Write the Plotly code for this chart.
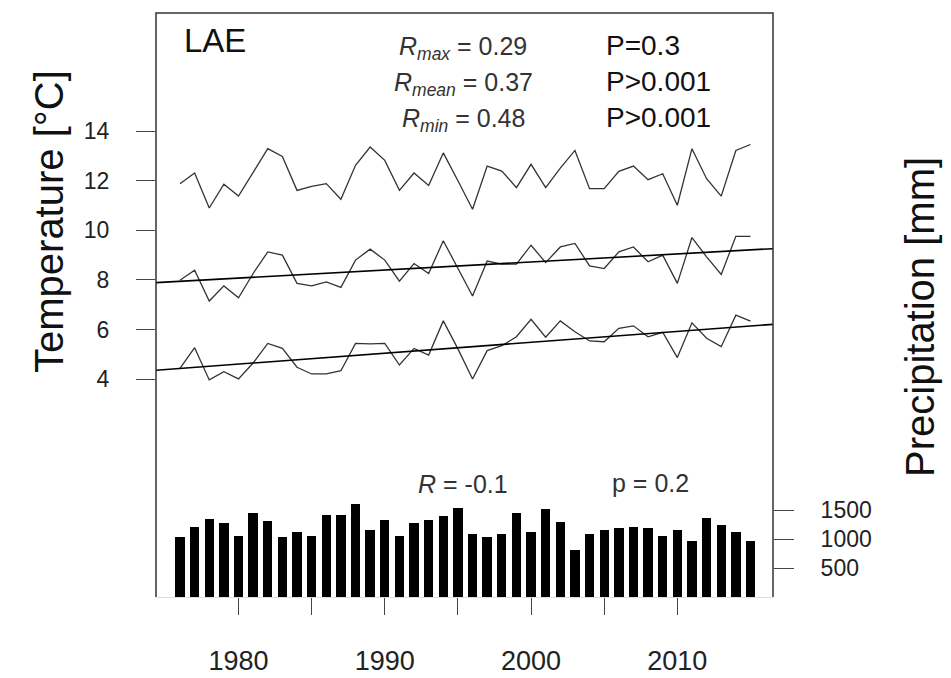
import plotly.graph_objects as go

# ---------------- data ----------------
years = list(range(1976, 2016))

t_max = [11.88, 12.31, 10.90, 11.86, 11.38, 12.34, 13.29, 12.98, 11.61, 11.77,
         11.88, 11.25, 12.62, 13.36, 12.82, 11.61, 12.31, 11.81, 13.12, 12.00,
         10.85, 12.59, 12.39, 11.72, 12.66, 11.72, 12.51, 13.22, 11.68, 11.68,
         12.38, 12.59, 12.04, 12.28, 11.01, 13.29, 12.08, 11.38, 13.22, 13.46]

t_mean = [7.99, 8.39, 7.15, 7.76, 7.28, 8.26, 9.13, 9.00, 7.86, 7.76,
          7.92, 7.70, 8.80, 9.24, 8.80, 7.95, 8.66, 8.26, 9.58, 8.49,
          7.35, 8.76, 8.64, 8.64, 9.40, 8.70, 9.33, 9.47, 8.57, 8.46,
          9.13, 9.33, 8.73, 9.00, 7.86, 9.71, 8.93, 8.22, 9.76, 9.76]

t_min = [4.44, 5.27, 3.97, 4.30, 4.01, 4.65, 5.44, 5.24, 4.48, 4.21,
         4.21, 4.34, 5.44, 5.42, 5.44, 4.57, 5.24, 4.97, 6.35, 5.22,
         4.01, 5.15, 5.35, 5.71, 6.41, 5.69, 6.35, 5.91, 5.54, 5.51,
         6.05, 6.15, 5.71, 5.89, 4.87, 6.27, 5.65, 5.31, 6.58, 6.34]

precip = [1029, 1212, 1340, 1271, 1057, 1453, 1305, 1029, 1115, 1057,
          1419, 1419, 1603, 1155, 1333, 1057, 1271, 1333, 1391, 1540,
          1086, 1029, 1086, 1453, 1115, 1512, 1298, 815, 1086, 1150,
          1184, 1212, 1184, 1057, 1150, 965, 1357, 1236, 1115, 965]

# regression lines (values at the left and right edge of the panel)
x_span = [1974.36, 2016.54]
trend_mean = [7.89, 9.26]
trend_min = [4.36, 6.21]

temp_ticks = [4, 6, 8, 10, 12, 14]
precip_ticks = [500, 1000, 1500]
year_labels = [1980, 1990, 2000, 2010]
year_minor = [1985, 1995, 2005]

stats_r = ["<i>R</i><sub><i>max</i></sub> = 0.29",
           "<i>R</i><sub><i>mean</i></sub> = 0.37",
           "<i>R</i><sub><i>min</i></sub> = 0.48"]
stats_p = ["P=0.3", "P>0.001", "P>0.001"]

# ---------------- figure ----------------
FONT = "Liberation Sans, Arial, sans-serif"
W, H = 951, 678
L, R, T, B = 156, 951 - 773, 13, 678 - 597
pw, ph = W - L - R, H - T - B

def px_x(p):
    return (p - L) / pw

def px_y(p):
    return (H - B - p) / ph

fig = go.Figure()

fig.add_trace(go.Bar(x=years, y=precip, yaxis="y2", width=0.64,
                     marker=dict(color="black", line=dict(width=0)),
                     showlegend=False))

for s in (t_max, t_mean, t_min):
    fig.add_trace(go.Scatter(x=years, y=s, mode="lines",
                             line=dict(color="#333333", width=1.3),
                             showlegend=False))

for tr in (trend_mean, trend_min):
    fig.add_trace(go.Scatter(x=x_span, y=tr, mode="lines",
                             line=dict(color="black", width=1.6),
                             showlegend=False))

annos = []
annos.append(dict(text="LAE", x=px_x(215), y=px_y(41), xref="paper", yref="paper",
                  showarrow=False, xanchor="center", yanchor="middle",
                  font=dict(family=FONT, size=33, color="#111")))
for i, (r, p) in enumerate(zip(stats_r, stats_p)):
    yc = [45, 81, 117.5][i]
    annos.append(dict(text=r, x=px_x(463), y=px_y(yc + 3), xref="paper", yref="paper",
                      showarrow=False, xanchor="center", yanchor="middle",
                      font=dict(family=FONT, size=25, color="#333")))
    annos.append(dict(text=p, x=px_x(604), y=px_y(yc), xref="paper", yref="paper",
                      showarrow=False, xanchor="left", yanchor="middle",
                      font=dict(family=FONT, size=28, color="#111")))
annos.append(dict(text="<i>R</i> = -0.1", x=px_x(463), y=px_y(484), xref="paper", yref="paper",
                  showarrow=False, xanchor="center", yanchor="middle",
                  font=dict(family=FONT, size=25, color="#333")))
annos.append(dict(text="p = 0.2", x=px_x(650), y=px_y(483), xref="paper", yref="paper",
                  showarrow=False, xanchor="center", yanchor="middle",
                  font=dict(family=FONT, size=25, color="#333")))
annos.append(dict(text="Temperature [°C]", x=px_x(49), y=px_y(222), xref="paper", yref="paper",
                  showarrow=False, xanchor="center", yanchor="middle", textangle=-90,
                  font=dict(family=FONT, size=40, color="#111")))
annos.append(dict(text="Precipitation [mm]", x=px_x(920), y=px_y(317), xref="paper", yref="paper",
                  showarrow=False, xanchor="center", yanchor="middle", textangle=-90,
                  font=dict(family=FONT, size=40, color="#111")))

shapes = [dict(type="path", xref="paper", yref="paper",
               path="M 0,0 L 0,1 L 1,1 L 1,0",
               line=dict(color="#333", width=1.5))]

fig.update_layout(
    width=W, height=H,
    margin=dict(l=L, r=R, t=T, b=B, pad=0, autoexpand=False),
    paper_bgcolor="white", plot_bgcolor="white",
    font=dict(family=FONT, color="#222"),
    bargap=0,
    xaxis=dict(range=x_span, tickvals=year_labels, automargin=False,
               ticks="outside", ticklen=17, tickcolor="#444", tickwidth=1.3,
               minor=dict(tickvals=year_minor, ticks="outside", ticklen=17,
                          tickcolor="#444", tickwidth=1.3, showgrid=False),
               showline=True, linecolor="#dddddd", linewidth=1,
               showgrid=False, zeroline=False,
               tickfont=dict(family=FONT, size=27, color="#222"),
               ticklabelstandoff=23),
    yaxis=dict(range=[-4.78, 18.76], tickvals=temp_ticks, automargin=False,
               ticks="outside", ticklen=19, tickcolor="#444", tickwidth=1.3,
               showline=False, showgrid=False, zeroline=False,
               tickfont=dict(family=FONT, size=23, color="#222"),
               ticklabelstandoff=22),
    yaxis2=dict(range=[0, 10075], tickvals=precip_ticks, overlaying="y", side="right",
                automargin=False,
                ticks="outside", ticklen=20, tickcolor="#444", tickwidth=1.3,
                showline=False, showgrid=False, zeroline=False,
                tickfont=dict(family=FONT, size=23, color="#222"),
                ticklabelstandoff=22),
    annotations=annos,
    shapes=shapes,
)

fig.write_html("out.html")
